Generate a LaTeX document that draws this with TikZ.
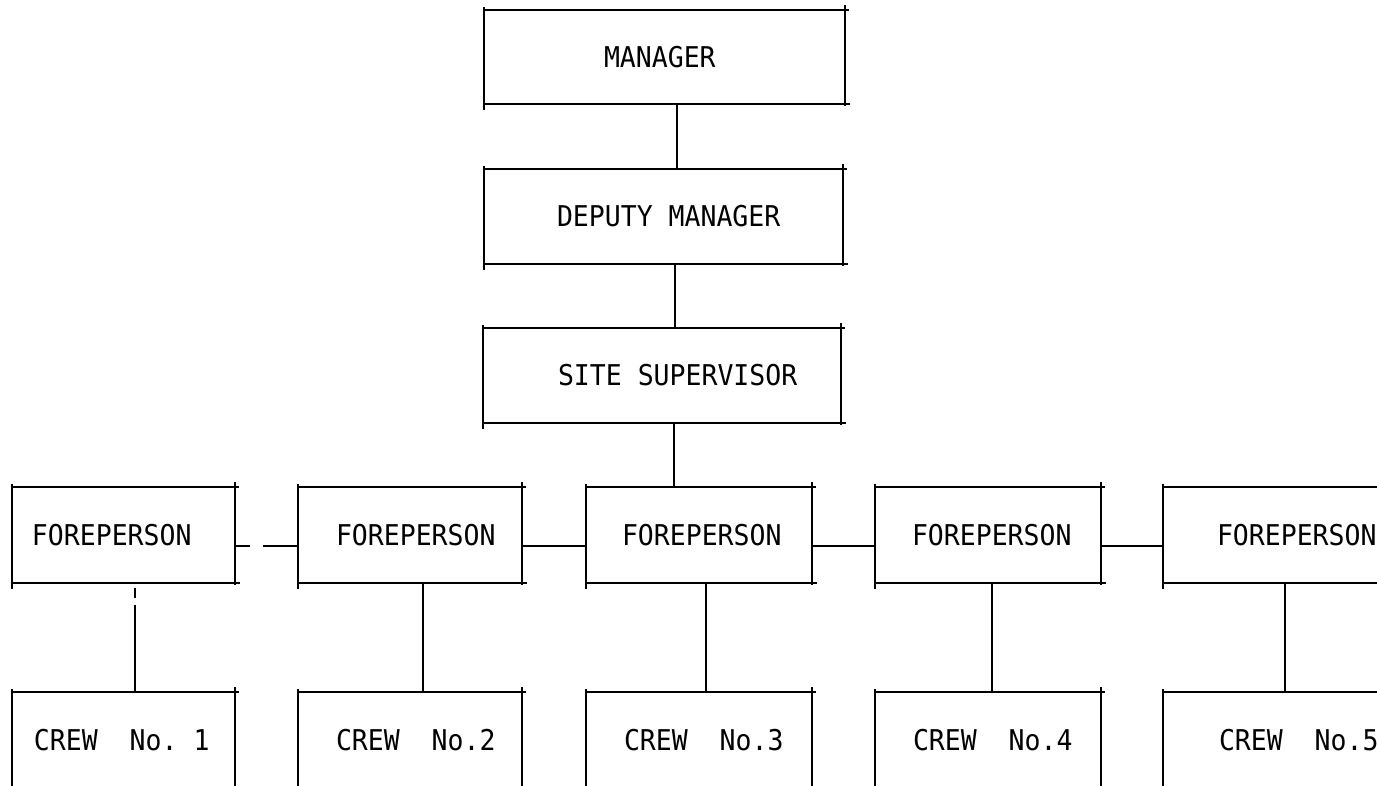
\documentclass[tikz,border=0pt]{standalone}
\usepackage{fontspec}
\setmonofont{DejaVu Sans Mono}
\usetikzlibrary{calc}
\tikzset{
  box/.style={inner sep=0pt, minimum height=#1, anchor=center,
    font=\ttfamily\fontsize{26.5}{30}\selectfont},
  edge/.style={line width=1.7pt, black},
  link/.style={line width=1.7pt, black},
}
\newcommand\boxtext[3]{\makebox[#1pt][l]{\hspace*{#2pt}\scalebox{1}[1.08]{#3}}}
\newcommand\boxedges[1]{%
  \draw[edge] ([xshift=-1pt]#1.north west) -- ([xshift=4pt]#1.north east);
  \draw[edge] ([yshift=5pt]#1.north east) -- ([yshift=-2pt]#1.south east);
  \draw[edge] ([xshift=-1pt]#1.south west) -- ([xshift=5pt]#1.south east);
  \draw[edge] ([yshift=3pt]#1.north west) -- ([yshift=-6pt]#1.south west);
}
\begin{document}
\begin{tikzpicture}[x=1pt,y=-1pt]
\useasboundingbox (0,0) rectangle (1377,786);
\clip (0,0) rectangle (1377,786);
\fill[white] (0,0) rectangle (1377,786);

% upper chain
\node[box=94pt] (M)  at (664.5,57)  {\boxtext{361}{120}{MANAGER}};
\node[box=95pt] (DM) at (663.5,216.5) {\boxtext{359}{73}{DEPUTY MANAGER}};
\node[box=95pt] (SS) at (662,375.5) {\boxtext{358}{75}{SITE SUPERVISOR}};

% forepersons
\node[box=96pt] (F1) at (123.5,535) {\boxtext{223}{20}{FOREPERSON}};
\node[box=96pt] (F2) at (410,535)   {\boxtext{224}{38}{FOREPERSON}};
\node[box=96pt] (F3) at (699,535)   {\boxtext{226}{36}{FOREPERSON}};
\node[box=96pt] (F4) at (988,535)   {\boxtext{226}{37}{FOREPERSON}};
\node[box=96pt] (F5) at (1276,535)  {\boxtext{226}{54}{FOREPERSON}};

% crews
\node[box=96pt] (C1) at (123.5,740) {\boxtext{223}{22}{CREW\ \ No.\ 1}};
\node[box=96pt] (C2) at (410,740)   {\boxtext{224}{38}{CREW\ \ No.2}};
\node[box=96pt] (C3) at (699,740)   {\boxtext{226}{38}{CREW\ \ No.3}};
\node[box=96pt] (C4) at (988,740)   {\boxtext{226}{38}{CREW\ \ No.4}};
\node[box=96pt] (C5) at (1276,740)  {\boxtext{226}{56}{CREW\ \ No.5}};

\foreach \n in {M,DM,SS,F1,F2,F3,F4,F5,C1,C2,C3,C4,C5}{\boxedges{\n}}

% vertical links
\draw[link] ([xshift=12.5pt]M.south) -- ([xshift=12.5pt]M.south |- DM.north);
\draw[link] ([xshift=11.5pt]DM.south) -- ([xshift=11.5pt]DM.south |- SS.north);
\draw[link] ([xshift=12pt]SS.south) -- ([xshift=12pt]SS.south |- F3.north);
\draw[link, dash pattern=on 0pt off 5pt on 10pt off 7pt on 200pt]
  ([xshift=11.5pt]F1.south) -- ([xshift=11.5pt]F1.south |- C1.north);
\draw[link] ([xshift=13pt]F2.south) -- ([xshift=13pt]F2.south |- C2.north);
\draw[link] ([xshift=7pt]F3.south) -- ([xshift=7pt]F3.south |- C3.north);
\draw[link] ([xshift=4pt]F4.south) -- ([xshift=4pt]F4.south |- C4.north);
\draw[link] ([xshift=9pt]F5.south) -- ([xshift=9pt]F5.south |- C5.north);

% horizontal links
\draw[link, dash pattern=on 15pt off 13pt on 80pt]
  ([yshift=-11pt]F1.east) -- ([yshift=-11pt]F1.east -| F2.west);
\draw[link] ([yshift=-11pt]F2.east) -- ([yshift=-11pt]F2.east -| F3.west);
\draw[link] ([yshift=-11pt]F3.east) -- ([yshift=-11pt]F3.east -| F4.west);
\draw[link] ([yshift=-11pt]F4.east) -- ([yshift=-11pt]F4.east -| F5.west);
\end{tikzpicture}
\end{document}
